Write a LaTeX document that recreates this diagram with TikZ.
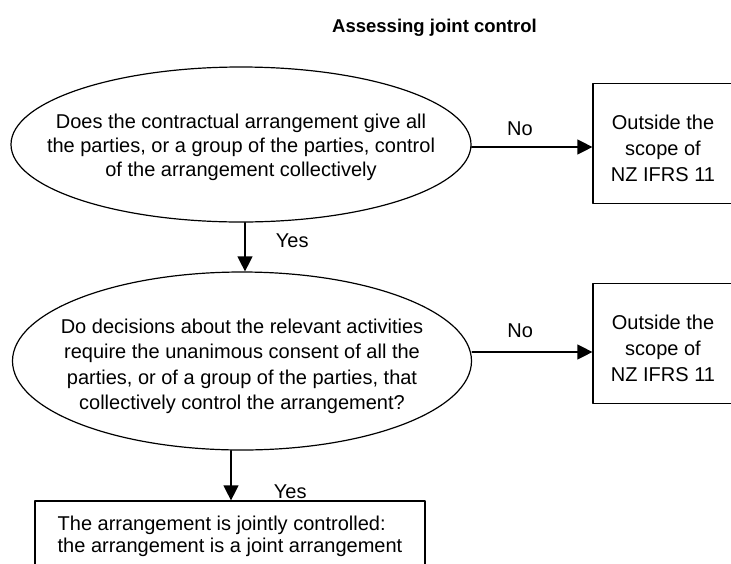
\documentclass[tikz,border=0pt]{standalone}
\usepackage{fontspec}
\setmainfont{Liberation Sans}
\usetikzlibrary{shapes.geometric,arrows.meta}

\begin{document}
\begin{tikzpicture}[
	x=1pt,
	y=-1pt,
	line cap=round,
	line join=round,
	>={Triangle[length=15pt,width=15pt]},
	every node/.style={align=center, font=\fontsize{20}{24}\selectfont},
	question/.style={
		shape=ellipse,
		line width=1.2pt,
		draw
	},
	outcome/.style={
		shape=rectangle,
		minimum width=140pt,
		minimum height=120pt,
		text height=76pt,
		text depth=0pt,
		line width=1.2pt,
		draw,
		font=\fontsize{20}{26}\selectfont
	},
	result/.style={
		shape=rectangle,
		minimum width=390pt,
		minimum height=71pt,
		align=left,
		line width=1.2pt,
		draw,
		font=\fontsize{20}{22}\selectfont
	},
	flow/.style={->, line width=1.2pt}
	]
	\useasboundingbox (0,0) rectangle (731,563);
	\node [font=\fontsize{18.5}{22}\selectfont\bfseries, anchor=base] (title) at (434.5,32) {Assessing joint control};
	% first question
	\node [question, minimum width=460pt, minimum height=155pt] (q1) at (241,144.5) {};
	\node (q1text) at ([yshift=-2.5pt]q1.center) {Does the contractual arrangement give all\\
		the parties, or a group of the parties, control\\
		of the arrangement collectively};
	\node [outcome] (r1) at (663,143.5) {Outside the\\scope of\\NZ IFRS 11};
	% second question
	\node [question, minimum width=459pt, minimum height=178pt] (q2) at (242,361) {};
	\node [font=\fontsize{20}{25.5}\selectfont] (q2text) at ([yshift=-5.5pt]q2.center) {Do decisions about the relevant activities\\
		require the unanimous consent of all the\\
		parties, or of a group of the parties, that\\
		collectively control the arrangement?};
	\node [outcome] (r2) at (663,343.5) {Outside the\\scope of\\NZ IFRS 11};
	% result
	\node [result] (r3) at (230,536.5) {The arrangement is jointly controlled:\\the arrangement is a joint arrangement};
	\draw [flow] ([yshift=-2.5pt]q1.east) -- ([yshift=-2.5pt]q1.east -| r1.west)
	node [pos=0.4, above=7pt] {No};
	\draw [flow] ([xshift=4pt]q1.south) -- ([xshift=4pt]q1.south |- q2.north)
	node [pos=0.38, right=27pt] {Yes};
	\draw [flow] ([yshift=9pt]q2.east) -- ([yshift=9pt]q2.east -| r2.west)
	node [pos=0.4, above=10pt] {No};
	\draw [flow] ([xshift=-11pt]q2.south) -- ([xshift=-11pt]q2.south |- r3.north)
	node [pos=0.82, right=39pt] {Yes};
\end{tikzpicture}
\end{document}
